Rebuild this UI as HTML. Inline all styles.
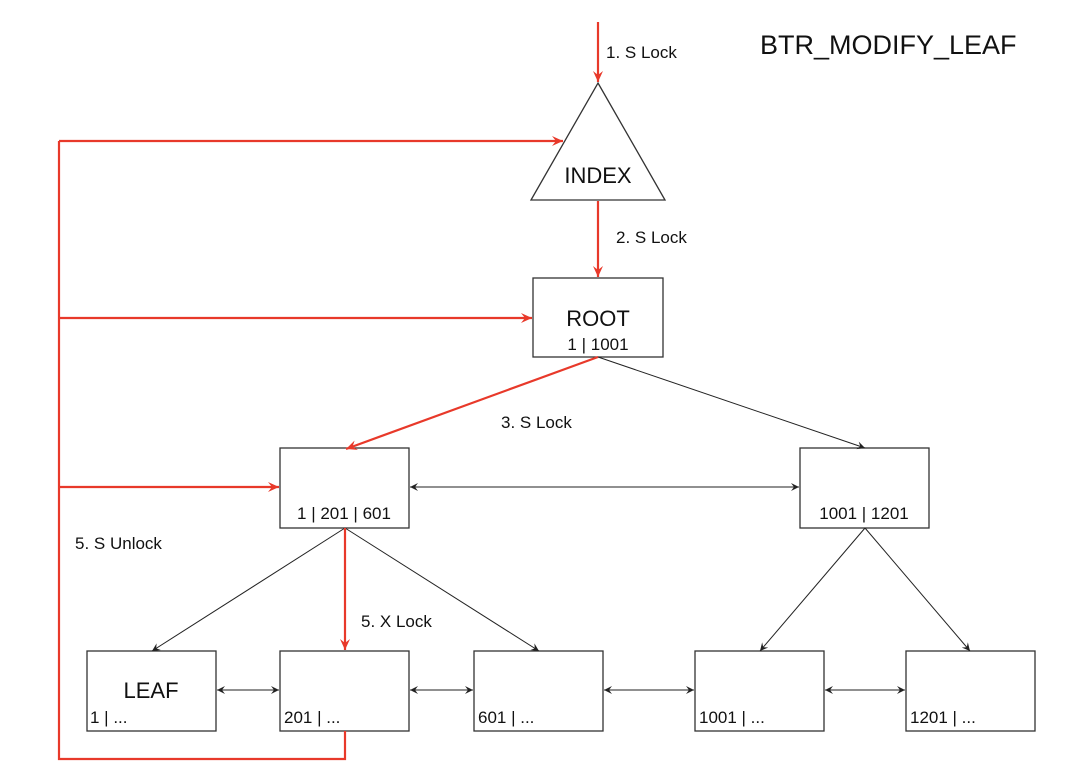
<!DOCTYPE html>
<html><head><meta charset="utf-8"><style>
html,body{margin:0;padding:0;background:#fff;}
svg{display:block;font-family:"Liberation Sans","DejaVu Sans",sans-serif;}
</style></head><body>
<svg width="1080" height="780" viewBox="0 0 1080 780" xmlns="http://www.w3.org/2000/svg">
<defs>
<marker id="r" markerWidth="12" markerHeight="10" refX="11" refY="5" orient="auto" markerUnits="userSpaceOnUse">
<path d="M0,0 L11,5 L0,10 L4,5 Z" fill="#e8392a"/></marker>
<marker id="b" markerWidth="9" markerHeight="8" refX="8" refY="4" orient="auto-start-reverse" markerUnits="userSpaceOnUse">
<path d="M0,0 L8,4 L0,8 L3,4 Z" fill="#222"/></marker>
</defs>
<g fill="#fff" stroke="#333" stroke-width="1.3">
<polygon points="598,83 665,200 531,200"/>
<rect x="533" y="278" width="130" height="79"/>
<rect x="280" y="448" width="129" height="80"/>
<rect x="800" y="448" width="129" height="80"/>
<rect x="87" y="651" width="129" height="80"/>
<rect x="280" y="651" width="129" height="80"/>
<rect x="474" y="651" width="129" height="80"/>
<rect x="695" y="651" width="129" height="80"/>
<rect x="906" y="651" width="129" height="80"/>
</g>
<g stroke="#222" stroke-width="1" fill="none">
<line x1="598" y1="357" x2="865" y2="448" marker-end="url(#b)"/>
<line x1="345" y1="528" x2="152" y2="651" marker-end="url(#b)"/>
<line x1="345" y1="528" x2="539" y2="651" marker-end="url(#b)"/>
<line x1="865" y1="528" x2="760" y2="651" marker-end="url(#b)"/>
<line x1="865" y1="528" x2="970" y2="651" marker-end="url(#b)"/>
<line x1="410" y1="487" x2="799" y2="487" marker-start="url(#b)" marker-end="url(#b)"/>
<line x1="217" y1="690" x2="279" y2="690" marker-start="url(#b)" marker-end="url(#b)"/>
<line x1="410" y1="690" x2="473" y2="690" marker-start="url(#b)" marker-end="url(#b)"/>
<line x1="604" y1="690" x2="694" y2="690" marker-start="url(#b)" marker-end="url(#b)"/>
<line x1="825" y1="690" x2="905" y2="690" marker-start="url(#b)" marker-end="url(#b)"/>
</g>
<g stroke="#e8392a" stroke-width="2.2" fill="none">
<line x1="598" y1="22" x2="598" y2="82" marker-end="url(#r)"/>
<line x1="598" y1="201" x2="598" y2="277" marker-end="url(#r)"/>
<line x1="598" y1="357" x2="346" y2="449" marker-end="url(#r)"/>
<line x1="345" y1="528" x2="345" y2="650" marker-end="url(#r)"/>
<polyline points="345,731 345,759 59,759 59,141"/>
<line x1="59" y1="141" x2="563" y2="141" marker-end="url(#r)"/>
<line x1="59" y1="318" x2="532" y2="318" marker-end="url(#r)"/>
<line x1="59" y1="487" x2="279" y2="487" marker-end="url(#r)"/>
</g>
<g fill="#111">
<text x="760" y="54" font-size="27">BTR_MODIFY_LEAF</text>
<text x="606" y="58" font-size="17">1. S Lock</text>
<text x="616" y="243" font-size="17">2. S Lock</text>
<text x="501" y="428" font-size="17">3. S Lock</text>
<text x="75" y="549" font-size="17">5. S Unlock</text>
<text x="361" y="627" font-size="17">5. X Lock</text>
<text x="598" y="183" font-size="22" text-anchor="middle">INDEX</text>
<text x="598" y="326" font-size="22" text-anchor="middle">ROOT</text>
<text x="598" y="350" font-size="17" text-anchor="middle">1 | 1001</text>
<text x="344" y="519" font-size="17" text-anchor="middle">1 | 201 | 601</text>
<text x="864" y="519" font-size="17" text-anchor="middle">1001 | 1201</text>
<text x="151" y="698" font-size="22" text-anchor="middle">LEAF</text>
<text x="90" y="723" font-size="17">1 | ...</text>
<text x="284" y="723" font-size="17">201 | ...</text>
<text x="478" y="723" font-size="17">601 | ...</text>
<text x="699" y="723" font-size="17">1001 | ...</text>
<text x="910" y="723" font-size="17">1201 | ...</text>
</g>
</svg>
</body></html>
